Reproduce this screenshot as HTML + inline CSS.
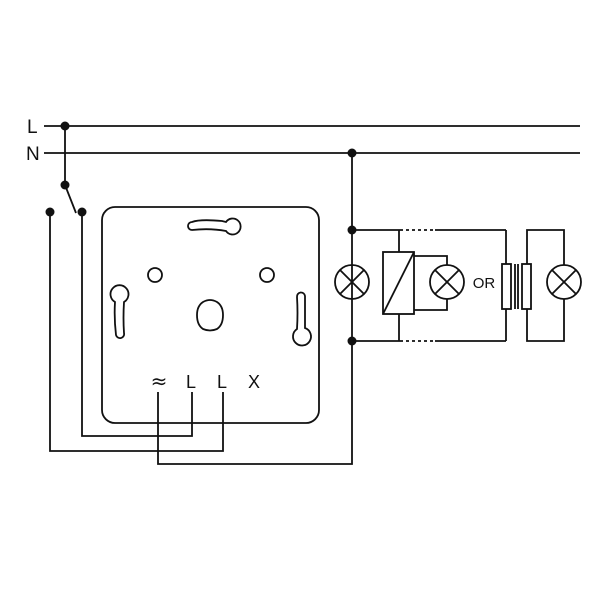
<!DOCTYPE html>
<html><head><style>body{margin:0;background:#fff}svg{display:block}</style></head><body>
<svg width="600" height="600" viewBox="0 0 600 600" xmlns="http://www.w3.org/2000/svg" fill="none" stroke="#111" stroke-width="1.8">
<text x="27" y="133" font-family="Liberation Sans, sans-serif" font-size="19" fill="#111" stroke="none">L</text>
<text x="26" y="160" font-family="Liberation Sans, sans-serif" font-size="19" fill="#111" stroke="none">N</text>
<line x1="44" y1="126" x2="580" y2="126"/>
<line x1="44" y1="153" x2="580" y2="153"/>
<line x1="65" y1="126" x2="65" y2="185"/>
<line x1="65" y1="185" x2="76" y2="213"/>
<polyline points="50,212 50,451 223,451 223,392"/>
<polyline points="82,212 82,436 192,436 192,392"/>
<polyline points="158,392 158,464 352,464 352,153"/>
<g fill="#111" stroke="none">
<circle cx="65" cy="126" r="4.5"/><circle cx="65" cy="185" r="4.5"/>
<circle cx="50" cy="212" r="4.5"/><circle cx="82" cy="212" r="4.5"/>
<circle cx="352" cy="153" r="4.5"/><circle cx="352" cy="230" r="4.5"/><circle cx="352" cy="341" r="4.5"/>
</g>
<rect x="102" y="207" width="217" height="216" rx="13"/>
<path d="M192,222 Q200,219 222,221 L226,222 A8,8 0 1 1 226,231 Q210,228 192,230 A4,4 0 0 1 192,222Z"/>
<circle cx="155" cy="275" r="7"/><circle cx="267" cy="275" r="7"/>
<path d="M115,302 A9,9 0 1 1 124,302 Q123,318 124,333 A4,4 0 0 1 116,335 Q114,318 115,302Z"/>
<path d="M297,297 A4,4 0 0 1 305,296 Q305,313 305,328 A9,9 0 1 1 297,329 Q298,313 297,297Z"/>
<path d="M203,302 Q210,298 217,302 Q223,306 223,315 Q223,325 217,329 Q210,332 203,329 Q197,325 197,315 Q197,306 203,302Z"/>
<g font-family="Liberation Sans, sans-serif" font-size="18" fill="#111" stroke="none" text-anchor="middle">
<text x="159" y="388" font-family="DejaVu Sans, sans-serif" font-size="20">≈</text>
<text x="191" y="388">L</text><text x="222" y="388">L</text><text x="254" y="388">X</text>
<text x="484" y="288" font-size="15">OR</text>
</g>
<line x1="352" y1="230" x2="400" y2="230"/>
<line x1="400" y1="230" x2="435" y2="230" stroke-dasharray="3,3"/>
<line x1="435" y1="230" x2="506" y2="230"/>
<line x1="352" y1="341" x2="400" y2="341"/>
<line x1="400" y1="341" x2="435" y2="341" stroke-dasharray="3,3"/>
<line x1="435" y1="341" x2="506" y2="341"/>
<g id="lamp"><circle cx="352" cy="282" r="17"/><line x1="340" y1="270" x2="364" y2="294"/><line x1="364" y1="270" x2="340" y2="294"/></g>
<use href="#lamp" x="95"/>
<use href="#lamp" x="212"/>
<rect x="383" y="252" width="31" height="62"/>
<line x1="383" y1="314" x2="414" y2="252"/>
<line x1="399" y1="230" x2="399" y2="252"/><line x1="399" y1="314" x2="399" y2="341"/>
<polyline points="414,256 447,256 447,265"/><polyline points="414,310 447,310 447,299"/>
<polyline points="506,230 506,264"/><polyline points="506,309 506,341"/>
<rect x="502" y="264" width="9" height="45"/>
<rect x="522" y="264" width="9" height="45"/>
<line x1="515" y1="264" x2="515" y2="309"/><line x1="518" y1="264" x2="518" y2="309"/>
<polyline points="527,264 527,230 564,230 564,265"/>
<polyline points="527,309 527,341 564,341 564,299"/>
</svg>
</body></html>
